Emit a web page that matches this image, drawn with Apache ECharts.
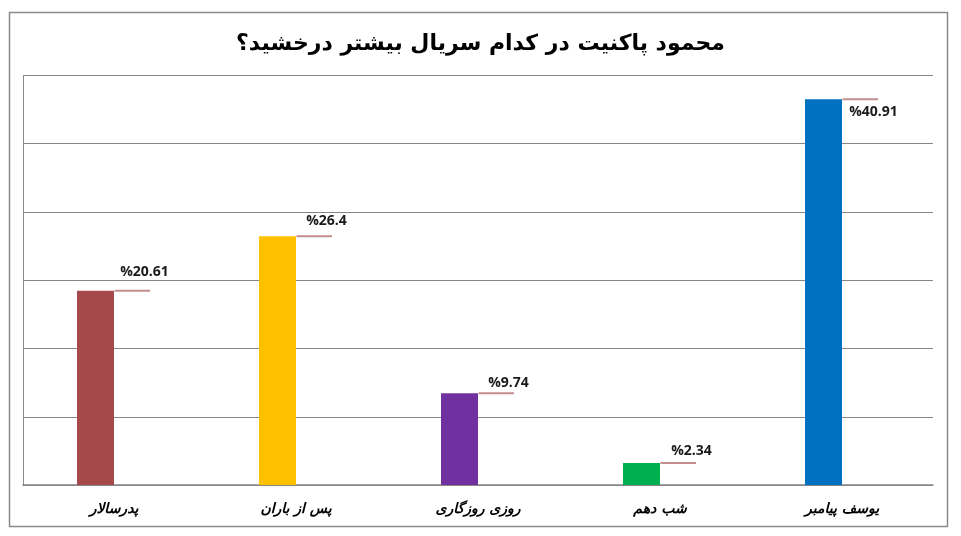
<!DOCTYPE html>
<html>
<head>
<meta charset="utf-8">
<script src="https://cdn.jsdelivr.net/npm/echarts@6/dist/echarts.min.js"></script>
<style>
html,body{margin:0;padding:0;background:#fff;}
#c{width:961px;height:536px;}
</style>
</head>
<body>
<div id="c"></div>
<script>
const titleText = 'محمود پاکنیت در کدام سریال بیشتر درخشید؟';
const categories = ['پدرسالار', 'پس از باران', 'روزی روزگاری', 'شب دهم', 'یوسف پیامبر'];
const values = [20.61, 26.4, 9.74, 2.34, 40.91];
const barColors = ['#A5494A', '#FFC000', '#7030A0', '#00B050', '#0070C0'];
const labelOffsets = [[12, -7], [12, -3], [12, 2], [13, 0], [13, 25]];
const axisMax = 43.44;
const axisInterval = 7.24;

const chart = echarts.init(document.getElementById('c'), null, {renderer: 'canvas'});
const BAR_W = 37;

chart.setOption({
  animation: false,
  backgroundColor: '#fff',
  title: {
    text: titleText,
    left: 'center',
    top: 28,
    textStyle: {
      fontFamily: 'DejaVu Sans, Arial, sans-serif',
      fontSize: 22,
      fontWeight: 'bold',
      color: '#000'
    }
  },
  graphic: [{
    type: 'rect',
    shape: {x: 9.5, y: 12.5, width: 938, height: 514},
    style: {fill: 'none', stroke: '#8a8a8a', lineWidth: 1.5},
    silent: true,
    z: -1
  }],
  grid: {left: 23, right: 28, top: 75.5, bottom: 51, containLabel: false},
  xAxis: {
    type: 'category',
    data: categories,
    boundaryGap: true,
    axisLine: {show: true, lineStyle: {color: '#868686', width: 1.5}},
    axisTick: {show: false},
    axisLabel: {
      margin: 17,
      fontFamily: 'DejaVu Sans, Arial, sans-serif',
      fontSize: 14,
      fontWeight: 'bold',
      fontStyle: 'italic',
      color: '#000'
    }
  },
  yAxis: {
    type: 'value',
    min: 0,
    max: axisMax,
    interval: axisInterval,
    axisLine: {show: true, lineStyle: {color: '#8a8a8a', width: 1}},
    axisTick: {show: false},
    axisLabel: {show: false},
    splitLine: {show: true, lineStyle: {color: '#868686', width: 1}}
  },
  series: [
    {
      type: 'bar',
      barWidth: BAR_W,
      barGap: '0%',
      data: values.map((v, i) => ({value: v, itemStyle: {color: barColors[i]}})),
      z: 2
    },
    {
      type: 'bar',
      barWidth: BAR_W,
      barGap: '0%',
      itemStyle: {color: 'rgba(0,0,0,0)'},
      data: values.map((v, i) => ({
        value: v,
        label: {
          show: true,
          position: 'top',
          distance: 5,
          offset: labelOffsets[i],
          formatter: '%' + v,
          fontFamily: 'Open Sans, Liberation Sans, sans-serif',
          fontSize: 14,
          fontWeight: 'bold',
          color: '#1a1a1a'
        }
      })),
      z: 3
    },
    {
      type: 'custom',
      data: values.map((v, i) => [i, v]),
      renderItem: function (params, api) {
        const p = api.coord([api.value(0), api.value(1)]);
        return {
          type: 'line',
          shape: {x1: p[0] + 0.5, y1: p[1], x2: p[0] + BAR_W - 1, y2: p[1]},
          style: {stroke: '#c48e8e', lineWidth: 2}
        };
      },
      z: 4
    }
  ]
});
</script>
</body>
</html>
